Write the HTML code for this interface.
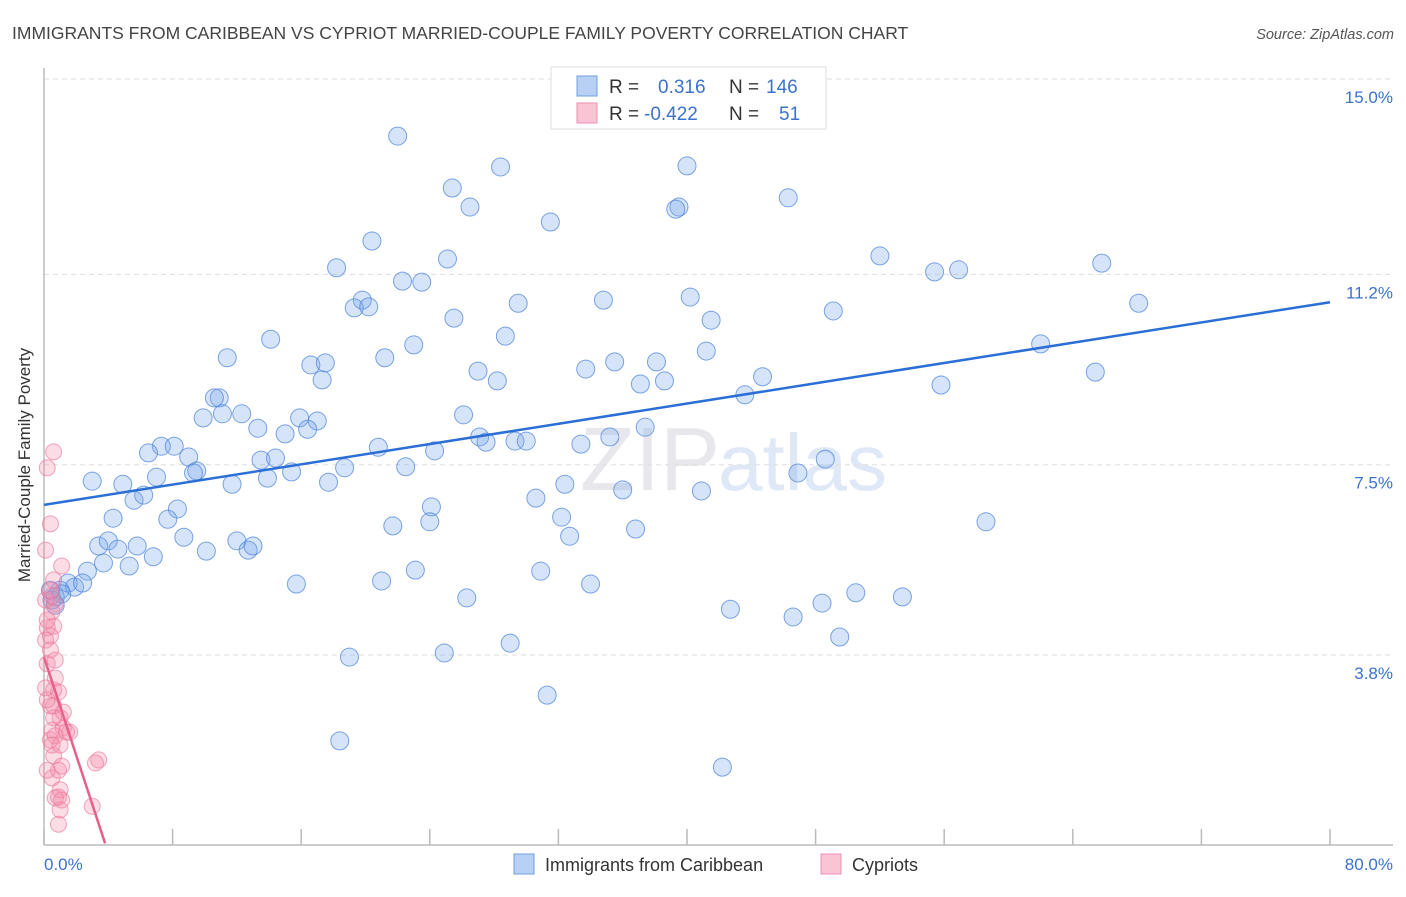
<!DOCTYPE html>
<html><head><meta charset="utf-8"><style>
body{margin:0;background:#fff;font-family:"Liberation Sans",sans-serif;}
svg text{font-family:"Liberation Sans",sans-serif;}
</style></head><body>
<svg width="1406" height="892" xmlns="http://www.w3.org/2000/svg">
<text x="12" y="39" font-size="17.5" fill="#444">IMMIGRANTS FROM CARIBBEAN VS CYPRIOT MARRIED-COUPLE FAMILY POVERTY CORRELATION CHART</text>
<text x="1394" y="39" font-size="14.5" fill="#555" font-style="italic" text-anchor="end">Source: ZipAtlas.com</text>
<text x="720" y="490" font-size="90" fill="#e8e8ec" text-anchor="end" font-family="Liberation Serif">ZIP</text>
<text x="718" y="490" font-size="80" fill="#dfe8f6">atlas</text>
<g id="grid"></g>
<g id="axes"></g>
<g id="blue"></g>
<g id="pink"></g>
<g id="lines"></g>
<text x="20" y="455" font-size="17" fill="#333" transform="rotate(-90 30 455)" text-anchor="middle">Married-Couple Family Poverty</text>
<text x="44" y="870" font-size="17" fill="#3b72d0">0.0%</text>
<text x="1393" y="870" font-size="17" fill="#3b72d0" text-anchor="end">80.0%</text>
<g>
<rect x="551" y="67" width="275" height="62" fill="#fff" stroke="#ddd"/>
<rect x="577" y="76" width="20" height="20" fill="#b8d0f4" stroke="#6f9fe0"/>
<rect x="577" y="103" width="20" height="20" fill="#f9c4d4" stroke="#ee90ac"/>
<text x="609" y="93" font-size="19" fill="#333">R = </text>
<text x="658" y="93" font-size="19" fill="#3b72d0">0.316</text>
<text x="729" y="93" font-size="19" fill="#333">N =</text>
<text x="766" y="93" font-size="19" fill="#3b72d0">146</text>
<text x="609" y="120" font-size="19" fill="#333">R = </text>
<text x="644" y="120" font-size="19" fill="#3b72d0">-0.422</text>
<text x="729" y="120" font-size="19" fill="#333">N =</text>
<text x="779" y="120" font-size="19" fill="#3b72d0">51</text>
</g>
<g>
<rect x="514" y="854" width="20" height="20" fill="#b8d0f4" stroke="#6f9fe0"/>
<text x="545" y="871" font-size="18" fill="#333">Immigrants from Caribbean</text>
<rect x="821" y="854" width="20" height="20" fill="#f9c4d4" stroke="#ee90ac"/>
<text x="852" y="871" font-size="18" fill="#333">Cypriots</text>
</g>
</svg>
<script>
const blueX=[22.0,28.4,40.0,25.4,26.5,39.5,39.3,46.3,31.5,20.4,18.2,25.1,22.3,23.5,52.0,55.4,56.9,65.8,19.8,19.3,20.2,29.5,34.8,40.2,49.1,68.1,25.5,41.5,14.1,28.7,23.0,21.2,11.4,16.6,17.5,27.0,33.7,35.5,38.1,41.2,62.0,65.4,17.3,28.2,37.1,38.6,44.7,55.8,10.9,10.6,43.6,9.9,11.1,12.3,15.9,17.0,26.1,13.3,15.0,16.4,7.3,8.1,6.5,20.8,24.3,27.1,27.5,29.3,30.0,33.4,35.2,37.4,9.0,9.5,9.3,13.5,14.4,3.0,4.9,7.0,11.7,13.9,15.4,17.7,18.7,22.5,32.4,36.0,40.9,46.9,48.6,5.6,6.2,30.6,8.3,4.3,7.7,24.1,24.0,21.7,32.2,36.8,58.6,32.7,8.7,12.0,3.4,4.0,4.6,5.8,12.7,13.0,10.1,6.8,2.7,3.7,5.3,15.7,21.0,23.1,30.9,34.0,1.5,1.9,2.4,1.0,0.7,1.1,26.3,42.7,46.6,48.4,50.5,53.4,49.5,19.0,24.9,29.0,31.3,18.4,42.2,37.6,0.5,0.7,0.4];
const blueY=[13.89,13.29,13.31,12.88,12.51,12.51,12.47,12.69,12.22,11.85,11.33,11.50,11.07,11.05,11.56,11.25,11.29,11.42,10.70,10.55,10.57,10.64,10.70,10.76,10.49,10.64,10.35,10.31,9.94,10.00,9.83,9.58,9.58,9.44,9.48,9.32,9.36,9.50,9.50,9.71,9.85,9.30,9.15,9.13,9.07,9.13,9.21,9.05,8.80,8.80,8.86,8.41,8.49,8.49,8.41,8.35,8.47,8.21,8.10,8.19,7.86,7.86,7.73,7.84,7.77,8.04,7.94,7.96,7.96,7.90,8.04,8.23,7.65,7.38,7.34,7.59,7.63,7.18,7.12,7.26,7.12,7.24,7.36,7.16,7.44,7.46,7.12,7.01,6.99,7.34,7.61,6.81,6.91,6.85,6.64,6.46,6.44,6.68,6.39,6.31,6.48,6.25,6.39,6.11,6.09,6.02,5.92,6.02,5.86,5.92,5.84,5.92,5.82,5.71,5.43,5.59,5.53,5.18,5.24,5.45,5.43,5.18,5.20,5.12,5.20,5.06,4.93,4.99,4.91,4.69,4.54,4.81,5.01,4.93,4.15,3.76,3.84,4.03,3.02,2.13,1.62,14.59,4.87,4.77,5.06];
const pinkX=[0.6,0.2,0.4,0.1,1.1,0.7,0.5,0.2,0.6,0.4,0.2,0.7,0.6,0.9,0.4,0.6,1.0,0.5,1.2,1.6,0.4,0.7,0.6,1.1,0.5,1.0,0.9,1.1,0.7,3.4,3.2,3.0,0.9,0.1,0.4,0.6,0.1,0.4,0.2,0.5,1.0,1.2,1.4,0.6,0.7,0.2,0.5,0.1,0.9,1.0,0.2];
const pinkY=[7.75,7.44,6.35,5.84,5.53,4.79,4.64,4.33,4.36,4.17,3.63,3.35,3.12,3.08,2.81,2.81,2.58,2.34,2.38,2.30,2.15,2.23,1.84,1.64,1.41,1.18,1.04,0.98,1.02,1.76,1.70,0.86,0.51,4.87,5.06,5.26,4.09,3.90,2.93,2.05,2.05,2.69,2.30,2.58,3.70,4.48,4.95,3.16,1.56,0.79,1.56];
const yTicks=[15.0,11.2,7.5,3.8];
const yTickLabels=["15.0%","11.2%","7.5%","3.8%"];
const xTicks=[0,8,16,24,32,40,48,56,64,72,80];
const blueTrend=[6.72,10.66]; // y at x=0, x=80
const pinkTrend=[3.76,-0.953]; // intercept, slope
const NS="http://www.w3.org/2000/svg";
const sx=v=>44+v*16.075, sy=v=>79+(15-v)*51.43;
function mk(t,a,p){const e=document.createElementNS(NS,t);for(const k in a)e.setAttribute(k,a[k]);p.appendChild(e);return e;}
const g=document.getElementById('grid'),ax=document.getElementById('axes');
yTicks.forEach((v,i)=>{
 const l=mk('line',{x1:44,x2:1393,y1:sy(v),y2:sy(v),stroke:'#ddd','stroke-dasharray':'5,4'},g);
 
 
 const t=mk('text',{x:1393,y:sy(v)+24,'font-size':17,fill:'#3b72d0','text-anchor':'end'},g);
 t.textContent=yTickLabels[i];
 
 
});
mk('line',{x1:44,x2:44,y1:68,y2:845,stroke:'#bbb','stroke-width':1.5},ax);
mk('line',{x1:44,x2:1393,y1:845,y2:845,stroke:'#bbb','stroke-width':1.5},ax);
xTicks.forEach(v=>{const l=mk('line',{x1:sx(v),x2:sx(v),y1:829,y2:845,stroke:'#bbb','stroke-width':1.5},ax);
 
 });
const bg=document.getElementById('blue');
blueX.forEach((x,i)=>{const c=mk('circle',{cx:sx(x),cy:sy(blueY[i]),r:9,fill:'rgba(120,165,235,0.3)',stroke:'rgba(80,135,220,0.75)','stroke-width':1},bg);
 
 });
const pg=document.getElementById('pink');
pinkX.forEach((x,i)=>{const c=mk('circle',{cx:sx(x),cy:sy(pinkY[i]),r:8,fill:'rgba(245,140,170,0.3)',stroke:'rgba(235,120,155,0.65)','stroke-width':1},pg);
 
 });
const lg=document.getElementById('lines');
const bl=mk('line',{x1:sx(0),y1:sy(blueTrend[0]),x2:sx(80),y2:sy(blueTrend[1]),stroke:'#2b6fd6','stroke-width':2.5},lg);


const xe=3.8;
const pl=mk('line',{x1:sx(0),y1:sy(pinkTrend[0]),x2:sx(xe),y2:sy(pinkTrend[0]+pinkTrend[1]*xe),stroke:'#e8608a','stroke-width':2.5},lg);


</script>
</body></html>
